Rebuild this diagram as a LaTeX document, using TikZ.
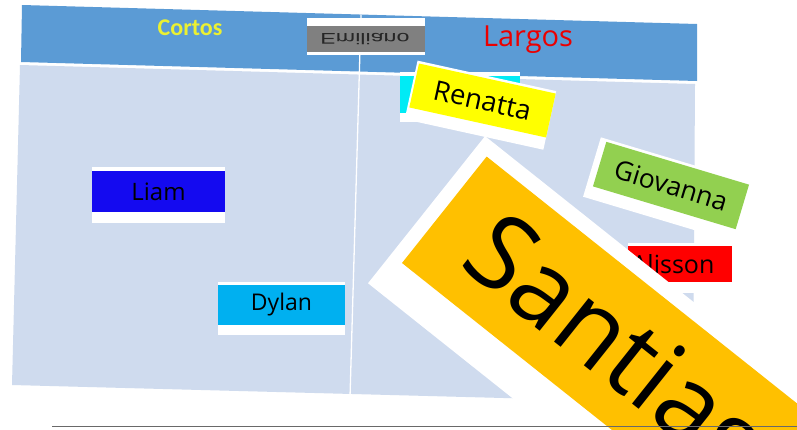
\documentclass[tikz,border=0pt]{standalone}
\usepackage{fontspec}
\newfontfamily\comic{Open Sans}
\newfontfamily\calib{Carlito}
\newfontfamily\arialf{Liberation Sans}
\definecolor{bandblue}{RGB}{91,155,213}
\definecolor{panelblue}{RGB}{207,219,238}
\definecolor{cortosyel}{RGB}{235,240,50}
\definecolor{largosred}{RGB}{235,0,0}
\definecolor{emigray}{RGB}{128,128,128}
\definecolor{brightcyan}{RGB}{0,235,245}
\definecolor{renyel}{RGB}{255,255,0}
\definecolor{liamblue}{RGB}{20,10,240}
\definecolor{dylancyan}{RGB}{0,176,240}
\definecolor{giogreen}{RGB}{146,208,80}
\definecolor{alired}{RGB}{255,0,0}
\definecolor{santorange}{RGB}{255,192,0}
\definecolor{linegray}{RGB}{105,105,105}
\newcommand{\fs}[1]{\fontsize{#1}{#1}\selectfont}
\begin{document}
\begin{tikzpicture}[x=1pt,y=-1pt,
  lbl/.style={inner sep=0pt, text=black, font=\comic},
  backing/.style={fill=white},
  title/.style={inner sep=0pt}]
\useasboundingbox (0,0) rectangle (797,429);
\clip (0,0) rectangle (797,429);
\fill[white] (0,0) rectangle (797,429);
% header band and panel
\fill[bandblue] (22,5) -- (697,24) -- (697,81) -- (21,62) -- cycle;
\fill[panelblue] (20,65) -- (695,84) -- (693,403) -- (12,385) -- cycle;
\coordinate (divtop) at (361,15);
\coordinate (divbot) at (350,397);
\draw[white, line width=1.3pt] (divtop) -- (divbot);
% titles
\node[title, text=cortosyel, font={\calib\bfseries\fs{24}}] (cortos) at (190,28) {Cortos};
\node[title, text=largosred, font={\comic\fs{29}}] (largos) at (528,40) {Largos};
% Emiliano (mirrored)
\fill[backing] (307,18) rectangle (425,55);
\fill[emigray] (307,26) rectangle (425,52);
\node[inner sep=0pt, text=black!85, font={\arialf\fs{15.5}}, xscale=1.5, yscale=-1] (emiliano) at (365,39) {Emiliano};
% cyan box behind Renatta
\fill[backing] (400,72) rectangle (520,122);
\fill[brightcyan] (400,76) rectangle (520,113);
% Renatta
\begin{scope}[shift={(482.5,100.5)}, rotate=-12.4]
  \fill[backing] (-72,-25) rectangle (70,35);
  \node[lbl, fill=renyel, minimum width=140pt, minimum height=45pt, transform shape, font={\comic\fs{27.5}}] (renatta) at (0,0) {Renatta};
\end{scope}
% Liam
\fill[backing] (92,167) rectangle (225,223);
\node[lbl, fill=liamblue, minimum width=133pt, minimum height=41pt, font={\comic\fs{24}}] (liam) at (158.5,191.5) {Liam};
% Dylan
\fill[backing] (218,282) rectangle (345,335);
\node[lbl, fill=dylancyan, minimum width=127pt, minimum height=40pt, font={\comic\fs{23}}] (dylan) at (281.5,305) {Dylan};
% Giovanna
\begin{scope}[shift={(671,185.5)}, rotate=-16.7]
  \fill[backing] (-81,-26) rectangle (74.5,36);
  \node[lbl, fill=giogreen, minimum width=149pt, minimum height=46.5pt, transform shape, font={\comic\fs{26.5}}] (giovanna) at (0,0) {Giovanna};
\end{scope}
% Alisson
\fill[backing] (628,243) rectangle (732,293);
\fill[alired] (628,246) rectangle (732,282);
\node[lbl, font={\comic\fs{25}}] (alisson) at (673,264) {Alisson};
% Santiago
\begin{scope}[shift={(402,263)}, rotate=-38.5]
  \fill[backing] (-14,-151) rectangle (800,37);
  \fill[santorange] (0,-136) rectangle (800,0);
  \node[lbl, anchor=base west, transform shape, font={\comic\fs{104}}] (santiago) at (44,-33) {Santiago};
\end{scope}
% bottom rule
\coordinate (ruleL) at (52,426.5);
\coordinate (ruleR) at (797,426.5);
\draw[linegray, line width=1.6pt] (ruleL) -- (ruleR);
\end{tikzpicture}
\end{document}
